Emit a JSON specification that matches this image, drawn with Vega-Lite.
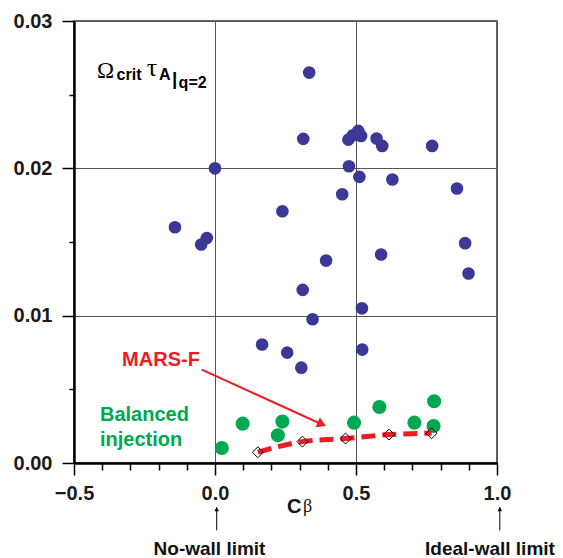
{
  "$schema": "https://vega.github.io/schema/vega-lite/v6.json",
  "autosize": {"type": "none"},
  "padding": {"left": 74, "top": 21, "right": 66, "bottom": 95},
  "width": 423,
  "height": 442,
  "config": {
    "view": {"stroke": "#333333", "strokeWidth": 1.5},
    "font": "Liberation Sans"
  },
  "resolve": {"axis": {"x": "independent"}},
  "datasets": {
    "blue": [
      {"cb": -0.142, "w": 0.0160}, {"cb": -0.029, "w": 0.01527}, {"cb": -0.049, "w": 0.01483},
      {"cb": 0.0, "w": 0.0200}, {"cb": 0.334, "w": 0.0265}, {"cb": 0.313, "w": 0.0220},
      {"cb": 0.239, "w": 0.01709}, {"cb": 0.394, "w": 0.01374}, {"cb": 0.311, "w": 0.01175},
      {"cb": 0.346, "w": 0.00976}, {"cb": 0.167, "w": 0.00804}, {"cb": 0.256, "w": 0.00749},
      {"cb": 0.306, "w": 0.00647}, {"cb": 0.473, "w": 0.02195}, {"cb": 0.489, "w": 0.02224},
      {"cb": 0.508, "w": 0.02254}, {"cb": 0.518, "w": 0.0222}, {"cb": 0.573, "w": 0.02202},
      {"cb": 0.593, "w": 0.02152}, {"cb": 0.770, "w": 0.02152}, {"cb": 0.475, "w": 0.02014},
      {"cb": 0.512, "w": 0.01942}, {"cb": 0.629, "w": 0.01924}, {"cb": 0.451, "w": 0.01824},
      {"cb": 0.858, "w": 0.01863}, {"cb": 0.887, "w": 0.01492}, {"cb": 0.899, "w": 0.01286},
      {"cb": 0.589, "w": 0.01415}, {"cb": 0.521, "w": 0.0105}, {"cb": 0.522, "w": 0.0077}
    ],
    "green": [
      {"cb": 0.024, "w": 0.00102}, {"cb": 0.098, "w": 0.00267}, {"cb": 0.239, "w": 0.00281},
      {"cb": 0.223, "w": 0.00188}, {"cb": 0.493, "w": 0.00274}, {"cb": 0.583, "w": 0.0038},
      {"cb": 0.707, "w": 0.00274}, {"cb": 0.777, "w": 0.00419}, {"cb": 0.775, "w": 0.00251}
    ],
    "mars": [
      {"cb": 0.152, "w": 0.00073}, {"cb": 0.310, "w": 0.00145}, {"cb": 0.463, "w": 0.00166},
      {"cb": 0.617, "w": 0.00193}, {"cb": 0.768, "w": 0.00202}
    ],
    "arrow": [{"x": -0.047, "y": 0.00634, "x2": 0.384, "y2": 0.00258, "hx": 0.379, "hy": 0.00263}],
    "limits": [
      {"x": 0.006, "y": -0.0030, "y2": -0.00457},
      {"x": 1.01, "y": -0.0030, "y2": -0.00457}
    ],
    "notes": [
      {"k": "sym", "t": "Ω", "x": -0.418, "y": 0.02612},
      {"k": "tau", "t": "τ", "x": -0.242, "y": 0.02625},
      {"k": "sub", "t": "crit", "x": -0.349, "y": 0.02598},
      {"k": "sub", "t": "A", "x": -0.199, "y": 0.02598},
      {"k": "sub", "t": "q=2", "x": -0.129, "y": 0.02548},
      {"k": "bar", "t": "|", "x": -0.143, "y": 0.02565},
      {"k": "mars", "t": "MARS-F", "x": -0.3295, "y": 0.00656},
      {"k": "bal", "t": "Balanced", "x": -0.408, "y": 0.00283},
      {"k": "bal", "t": "injection", "x": -0.408, "y": 0.00115},
      {"k": "lim", "t": "No-wall limit", "x": -0.0195, "y": -0.00622},
      {"k": "lim", "t": "Ideal-wall limit", "x": 0.975, "y": -0.00622},
      {"k": "C", "t": "C", "x": 0.255, "y": -0.00341},
      {"k": "beta", "t": "β", "x": 0.312, "y": -0.00330}
    ]
  },
  "layer": [
    {
      "data": {"name": "blue"},
      "mark": {"type": "circle", "size": 160, "color": "#3c3996", "opacity": 1},
      "encoding": {
        "x": {
          "field": "cb", "type": "quantitative",
          "scale": {"domain": [-0.5, 1.0], "nice": false, "zero": false},
          "axis": {
            "title": null, "orient": "bottom",
            "values": [-0.5, 0, 0.5, 1.0],
            "format": ".1f",
            "tickSize": 12,
            "grid": true, "gridColor": "#555555", "gridWidth": 1,
            "domainColor": "#000000", "domainWidth": 2.5,
            "tickColor": "#000000", "tickWidth": 1.5,
            "labelFont": "Liberation Sans", "labelFontWeight": "bold", "labelFontSize": 20,
            "labelColor": "#1a1a1a", "labelPadding": 8, "labelFlush": false, "labelOverlap": false
          }
        },
        "y": {
          "field": "w", "type": "quantitative",
          "scale": {"domain": [0, 0.03], "nice": false, "zero": false},
          "axis": {
            "title": null,
            "values": [0, 0.005, 0.01, 0.015, 0.02, 0.025, 0.03],
            "labelExpr": "abs(datum.value*100 - round(datum.value*100)) < 0.001 ? format(datum.value, '.2f') : ''",
            "tickSize": {"condition": {"test": "abs(datum.value*100 - round(datum.value*100)) < 0.001", "value": 12}, "value": 5},
            "gridOpacity": {"condition": {"test": "abs(datum.value*100 - round(datum.value*100)) < 0.001", "value": 1}, "value": 0},
            "grid": true, "gridColor": "#555555", "gridWidth": 1,
            "domainColor": "#000000", "domainWidth": 2.5,
            "tickColor": "#000000", "tickWidth": 1.5,
            "labelFont": "Liberation Sans", "labelFontWeight": "bold", "labelFontSize": 20,
            "labelColor": "#1a1a1a", "labelPadding": 10, "labelFlush": false, "labelOverlap": false
          }
        }
      }
    },
    {
      "data": {"name": "green"},
      "mark": {"type": "circle", "size": 200, "color": "#00a84f", "opacity": 1},
      "encoding": {
        "x": {"field": "cb", "type": "quantitative",
          "axis": {
            "title": null, "orient": "bottom",
            "values": [-0.4, -0.3, -0.2, -0.1, 0.1, 0.2, 0.3, 0.4, 0.6, 0.7, 0.8, 0.9],
            "labels": false, "grid": false, "domain": false,
            "tickSize": 7, "tickColor": "#000000", "tickWidth": 1.5
          }
        },
        "y": {"field": "w", "type": "quantitative"}
      }
    },
    {
      "data": {"name": "mars"},
      "mark": {"type": "line", "color": "#ed1c24", "strokeWidth": 5, "strokeDash": [14, 7], "interpolate": "monotone"},
      "encoding": {"x": {"field": "cb", "type": "quantitative", "axis": null}, "y": {"field": "w", "type": "quantitative"}}
    },
    {
      "data": {"name": "mars"},
      "mark": {"type": "point", "shape": "diamond", "size": 120, "filled": false, "stroke": "#000000", "strokeWidth": 1, "opacity": 1},
      "encoding": {"x": {"field": "cb", "type": "quantitative", "axis": null}, "y": {"field": "w", "type": "quantitative"}}
    },
    {
      "data": {"name": "arrow"},
      "mark": {"type": "rule", "color": "#ed1c24", "strokeWidth": 2},
      "encoding": {
        "x": {"field": "x", "type": "quantitative", "axis": null}, "y": {"field": "y", "type": "quantitative"},
        "x2": {"field": "x2"}, "y2": {"field": "y2"}
      }
    },
    {
      "data": {"name": "arrow"},
      "mark": {"type": "point", "shape": "triangle-right", "size": 110, "filled": true, "color": "#ed1c24", "opacity": 1, "angle": 24},
      "encoding": {"x": {"field": "hx", "type": "quantitative", "axis": null}, "y": {"field": "hy", "type": "quantitative"}}
    },
    {
      "data": {"name": "limits"},
      "mark": {"type": "rule", "color": "#000000", "strokeWidth": 1},
      "encoding": {
        "x": {"field": "x", "type": "quantitative", "axis": null}, "y": {"field": "y", "type": "quantitative"},
        "y2": {"field": "y2"}
      }
    },
    {
      "data": {"name": "limits"},
      "mark": {"type": "point", "shape": "triangle-up", "size": 22, "filled": true, "color": "#000000", "opacity": 1, "yOffset": 2},
      "encoding": {"x": {"field": "x", "type": "quantitative", "axis": null}, "y": {"field": "y", "type": "quantitative"}}
    },
    {
      "data": {"name": "notes"},
      "transform": [{"filter": "datum.k == 'sym'"}],
      "mark": {"type": "text", "align": "left", "baseline": "alphabetic", "font": "Liberation Serif", "fontSize": 23, "color": "#000000"},
      "encoding": {"x": {"field": "x", "type": "quantitative", "axis": null}, "y": {"field": "y", "type": "quantitative"}, "text": {"field": "t"}}
    },
    {
      "data": {"name": "notes"},
      "transform": [{"filter": "datum.k == 'tau'"}],
      "mark": {"type": "text", "align": "left", "baseline": "alphabetic", "font": "Liberation Serif", "fontSize": 26, "color": "#000000"},
      "encoding": {"x": {"field": "x", "type": "quantitative", "axis": null}, "y": {"field": "y", "type": "quantitative"}, "text": {"field": "t"}}
    },
    {
      "data": {"name": "notes"},
      "transform": [{"filter": "datum.k == 'sub'"}],
      "mark": {"type": "text", "align": "left", "baseline": "alphabetic", "font": "Liberation Sans", "fontWeight": "bold", "fontSize": 16, "color": "#000000"},
      "encoding": {"x": {"field": "x", "type": "quantitative", "axis": null}, "y": {"field": "y", "type": "quantitative"}, "text": {"field": "t"}}
    },
    {
      "data": {"name": "notes"},
      "transform": [{"filter": "datum.k == 'bar'"}],
      "mark": {"type": "text", "align": "center", "baseline": "alphabetic", "font": "Liberation Sans", "fontWeight": "bold", "fontSize": 19, "color": "#000000"},
      "encoding": {"x": {"field": "x", "type": "quantitative", "axis": null}, "y": {"field": "y", "type": "quantitative"}, "text": {"field": "t"}}
    },
    {
      "data": {"name": "notes"},
      "transform": [{"filter": "datum.k == 'mars'"}],
      "mark": {"type": "text", "align": "left", "baseline": "alphabetic", "font": "Liberation Sans", "fontWeight": "bold", "fontSize": 20, "color": "#ed1c24"},
      "encoding": {"x": {"field": "x", "type": "quantitative", "axis": null}, "y": {"field": "y", "type": "quantitative"}, "text": {"field": "t"}}
    },
    {
      "data": {"name": "notes"},
      "transform": [{"filter": "datum.k == 'bal'"}],
      "mark": {"type": "text", "align": "left", "baseline": "alphabetic", "font": "Liberation Sans", "fontWeight": "bold", "fontSize": 20, "color": "#00a84f"},
      "encoding": {"x": {"field": "x", "type": "quantitative", "axis": null}, "y": {"field": "y", "type": "quantitative"}, "text": {"field": "t"}}
    },
    {
      "data": {"name": "notes"},
      "transform": [{"filter": "datum.k == 'lim'"}],
      "mark": {"type": "text", "align": "center", "baseline": "alphabetic", "font": "Liberation Sans", "fontWeight": "bold", "fontSize": 19, "color": "#111111"},
      "encoding": {"x": {"field": "x", "type": "quantitative", "axis": null}, "y": {"field": "y", "type": "quantitative"}, "text": {"field": "t"}}
    },
    {
      "data": {"name": "notes"},
      "transform": [{"filter": "datum.k == 'C'"}],
      "mark": {"type": "text", "align": "left", "baseline": "alphabetic", "font": "Liberation Sans", "fontWeight": "bold", "fontSize": 20, "color": "#111111"},
      "encoding": {"x": {"field": "x", "type": "quantitative", "axis": null}, "y": {"field": "y", "type": "quantitative"}, "text": {"field": "t"}}
    },
    {
      "data": {"name": "notes"},
      "transform": [{"filter": "datum.k == 'beta'"}],
      "mark": {"type": "text", "align": "left", "baseline": "alphabetic", "font": "Liberation Serif", "fontSize": 18, "color": "#111111"},
      "encoding": {"x": {"field": "x", "type": "quantitative", "axis": null}, "y": {"field": "y", "type": "quantitative"}, "text": {"field": "t"}}
    }
  ]
}
